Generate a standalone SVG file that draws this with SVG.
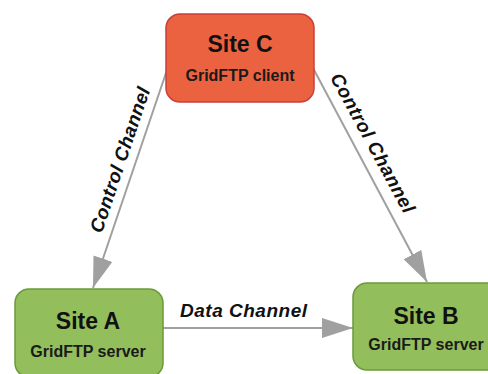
<svg xmlns="http://www.w3.org/2000/svg" width="488" height="374" viewBox="0 0 488 374">
  <style>
    .client { fill: #EA6240; stroke: #C9403A; stroke-width: 1.5; }
    .server { fill: #93BE5C; stroke: #6B9A3B; stroke-width: 1.5; }
    .title { font-family: "Liberation Sans", Arial, sans-serif; font-weight: bold; font-size: 23px; fill: #111; text-anchor: middle; }
    .sub { font-family: "Liberation Sans", Arial, sans-serif; font-weight: bold; font-size: 16px; fill: #1a1a1a; text-anchor: middle; }
    .edge { stroke: #A0A0A0; stroke-width: 2; fill: none; }
    .elabel { font-family: "Liberation Sans", Arial, sans-serif; font-weight: bold; font-style: italic; font-size: 19px; fill: #111; text-anchor: middle; }
  </style>
  <defs>
    <marker id="arrow" markerUnits="userSpaceOnUse" markerWidth="32" markerHeight="22" refX="31" refY="11" orient="auto">
      <path d="M0,1 L31,11 L0,21 Z" fill="#A0A0A0"/>
    </marker>
  </defs>
  <rect width="488" height="374" fill="#ffffff"/>

  <g id="connectors">
    <line class="edge" x1="167" y1="70" x2="93" y2="288" marker-end="url(#arrow)"/>
    <line class="edge" x1="313" y1="68" x2="427" y2="282" marker-end="url(#arrow)"/>
    <line class="edge" x1="163" y1="328" x2="353" y2="328" marker-end="url(#arrow)"/>
    <text class="elabel" transform="translate(126,162) rotate(-71.3)" textLength="152" lengthAdjust="spacing">Control Channel</text>
    <text class="elabel" transform="translate(367,146) rotate(61.5)" textLength="156" lengthAdjust="spacing">Control Channel</text>
    <text class="elabel" x="243.5" y="317" textLength="127" lengthAdjust="spacing">Data Channel</text>
  </g>

  <g id="site-c">
    <rect class="client" x="166" y="14" width="148" height="88" rx="14"/>
    <text class="title" x="240" y="52">Site C</text>
    <text class="sub" x="240" y="81">GridFTP client</text>
  </g>

  <g id="site-a">
    <rect class="server" x="15" y="289" width="148" height="88" rx="14"/>
    <text class="title" x="88" y="329">Site A</text>
    <text class="sub" x="88" y="357">GridFTP server</text>
  </g>

  <g id="site-b">
    <rect class="server" x="353" y="283" width="148" height="87" rx="14"/>
    <text class="title" x="426" y="324">Site B</text>
    <text class="sub" x="426" y="350">GridFTP server</text>
  </g>
</svg>
